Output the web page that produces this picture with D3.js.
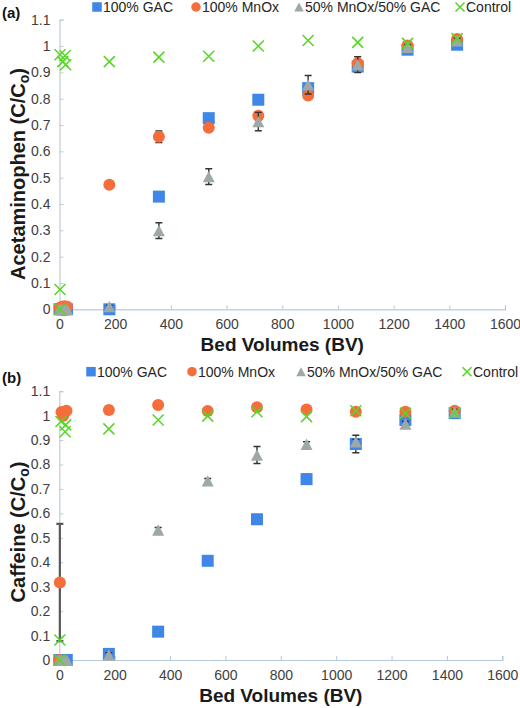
<!DOCTYPE html>
<html><head><meta charset="utf-8">
<script src="https://cdn.jsdelivr.net/npm/d3@7"></script>
<style>body{margin:0;background:#fff}svg{display:block}</style>
</head><body>
<svg id="c" width="520" height="708"></svg>
<script>
// ---------- data ----------
const seriesNames = ["100% GAC", "100% MnOx", "50% MnOx/50% GAC", "Control"];
const xTicks = [0, 200, 400, 600, 800, 1000, 1200, 1400, 1600];
const yTicks = [0, 0.1, 0.2, 0.3, 0.4, 0.5, 0.6, 0.7, 0.8, 0.9, 1, 1.1];

// Panel (a) Acetaminophen
const aBV = [0, 9, 18, 27, 179, 357, 536, 714, 893, 1071, 1250, 1428];
const aGAC = [0, 0, 0, 0, 0, 0.428, 0.726, 0.796, 0.84, 0.922, 0.986, 1.005];
const aGACerr = [0, 0, 0, 0, 0, 0.008, 0.01, 0.008, 0.01, 0.01, 0.008, 0.008];
const aMnOx = [0.005, 0.01, 0.012, 0.01, 0.473, 0.655, 0.69, 0.735, 0.812, 0.935, 1.002, 1.027];
const aMnOxErr = [0, 0, 0, 0, 0.01, 0.022, 0.01, 0.015, 0.01, 0.01, 0.01, 0.01];
const aMix = [0, 0, 0, 0, 0.01, 0.299, 0.504, 0.713, 0.853, 0.929, 0.995, 1.02];
const aMixErr = [0, 0, 0, 0, 0.005, 0.03, 0.03, 0.035, 0.035, 0.03, 0.01, 0.01];
const aCtrlBV = [2, 2, 2, 20, 12, 22, 179, 357, 536, 714, 893, 1071, 1250, 1428];
const aCtrl = [0, 0.075, 0.967, 0.963, 0.941, 0.929, 0.941, 0.958, 0.961, 1.0, 1.021, 1.014, 1.01, 1.028];

// Panel (b) Caffeine
const bBV = [0, 9, 18, 27, 179, 357, 536, 714, 893, 1071, 1250, 1428];
const bGAC = [0, 0, 0, 0, 0.025, 0.116, 0.406, 0.576, 0.74, 0.884, 0.982, 1.01];
const bGACerr = [0, 0, 0, 0, 0.01, 0.01, 0.01, 0.01, 0.02, 0.036, 0.02, 0.01];
const bMnOxBV = [0, 2, 8, 14, 26, 179, 357, 536, 714, 893, 1071, 1250, 1428];
const bMnOx = [0, 0.317, 1.015, 1.0, 1.02, 1.023, 1.044, 1.019, 1.034, 1.025, 1.016, 1.016, 1.02];
const bMnOxErr = [0, 0.24, 0.01, 0.01, 0.01, 0.01, 0.01, 0.01, 0.01, 0.01, 0.01, 0.01, 0.01];
const bMix = [0, 0, 0, 0, 0.02, 0.532, 0.733, 0.839, 0.883, 0.893, 0.966, 1.015];
const bMixErr = [0, 0, 0, 0, 0.01, 0.01, 0.01, 0.035, 0.01, 0.01, 0.01, 0.01];
const bCtrlBV = [2, 2, 6, 23, 21, 179, 357, 536, 714, 893, 1071, 1250, 1428];
const bCtrl = [0, 0.082, 0.976, 0.962, 0.934, 0.946, 0.982, 0.998, 1.016, 0.996, 1.02, 1.01, 1.01];

// ---------- style ----------
const colors = ["#3f86e6", "#f46d3a", "#9ea8a7", "#5ad62a"];
const svg = d3.select("#c");
const FONT = "'Liberation Sans', Arial, sans-serif";

function drawMarker(g, type, x, y, s) {
  if (type === 0) {
    g.append("rect").attr("x", x - s / 2).attr("y", y - s / 2).attr("width", s).attr("height", s).attr("fill", colors[0]);
  } else if (type === 1) {
    g.append("circle").attr("cx", x).attr("cy", y).attr("r", s / 2).attr("fill", colors[1]);
  } else if (type === 2) {
    const h = s * 0.95;
    g.append("path").attr("d", `M${x},${y - h / 2}L${x + s / 2},${y + h / 2}L${x - s / 2},${y + h / 2}Z`).attr("fill", colors[2]);
  } else {
    const r = s / 2;
    g.append("path").attr("d", `M${x - r},${y - r}L${x + r},${y + r}M${x - r},${y + r}L${x + r},${y - r}`)
      .attr("stroke", colors[3]).attr("stroke-width", 1.6).attr("fill", "none");
  }
}

function drawPanel(p) {
  const x = d3.scaleLinear().domain([0, 1600]).range([p.x0, p.x1]);
  const y = d3.scaleLinear().domain([0, 1.1]).range([p.y0, p.y1]);
  const g = svg.append("g");

  // axes
  const yAxis = d3.axisLeft(y).tickValues(yTicks).tickSize(-4).tickPadding(9)
    .tickFormat(d => d === 0 ? "0" : d3.format(".1~f")(d));
  const ya = g.append("g").attr("transform", `translate(${p.x0},0)`).call(yAxis);
  ya.select(".domain").attr("stroke", "#c3cad2").attr("stroke-width", 1.2);
  ya.selectAll(".tick line").attr("stroke", "#c3cad2");
  ya.selectAll("text").attr("font-family", FONT).attr("font-size", 14).attr("fill", "#404040");

  const xAxis = d3.axisBottom(x).tickValues(xTicks).tickSize(-4).tickPadding(10).tickFormat(d3.format("d"));
  const xa = g.append("g").attr("transform", `translate(0,${p.y0})`).call(xAxis);
  xa.select(".domain").attr("stroke", "#b7c9df").attr("stroke-width", 1.2);
  xa.selectAll(".tick line").attr("stroke", "#b7c9df");
  xa.selectAll("text").attr("font-family", FONT).attr("font-size", 14).attr("fill", "#404040");

  // series
  const series = [
    { bv: p.gacBV, v: p.gac, e: p.gacErr },
    { bv: p.mnBV, v: p.mn, e: p.mnErr },
    { bv: p.mixBV, v: p.mix, e: p.mixErr },
    { bv: p.ctrlBV, v: p.ctrl, e: null }
  ];
  series.forEach((s, i) => {
    const sg = g.append("g");
    s.v.forEach((v, j) => {
      const cx = x(s.bv[j]), cy = y(v);
      if (s.e && s.e[j] > 0) {
        const top = y(v + s.e[j]), bot = y(v - s.e[j]);
        sg.append("path").attr("d", `M${cx},${top}L${cx},${bot}M${cx - 3.5},${top}L${cx + 3.5},${top}M${cx - 3.5},${bot}L${cx + 3.5},${bot}`)
          .attr("stroke", i === 1 && s.e[j] > 0.1 ? "#5a5a5a" : "#333").attr("stroke-width", i === 1 && s.e[j] > 0.1 ? 2.2 : 1.4).attr("fill", "none");
      }
    });
    s.v.forEach((v, j) => drawMarker(sg, i, x(s.bv[j]), y(v), i === 3 ? 11 : 12));
  });

  // legend
  const lg = g.append("g");
  p.legend.forEach((lx, i) => {
    drawMarker(lg, i, lx, p.ly, i === 3 ? 9 : 9.5);
    lg.append("text").attr("x", lx + 6).attr("y", p.ly + 5).attr("font-family", FONT).attr("font-size", 14)
      .attr("fill", "#262626").text(seriesNames[i]);
  });

  // panel label
  g.append("text").attr("x", 2).attr("y", p.ly + 11).attr("font-family", FONT).attr("font-size", 15)
    .attr("font-weight", "bold").attr("fill", "#111").text(p.label);

  // axis titles
  g.append("text").attr("x", (p.x0 + p.x1) / 2).attr("y", p.y0 + 42).attr("text-anchor", "middle")
    .attr("font-family", FONT).attr("font-size", 19).attr("font-weight", "bold").attr("fill", "#1a1a1a")
    .text("Bed Volumes (BV)");
  const yt = g.append("text").attr("transform", `translate(25,${p.ytc}) rotate(-90)`).attr("text-anchor", "middle")
    .attr("font-family", FONT).attr("font-size", 20).attr("font-weight", "bold").attr("fill", "#1a1a1a");
  yt.append("tspan").text(p.ytitle + " (C/C");
  yt.append("tspan").attr("font-size", 14).attr("dy", 4).text("o");
  yt.append("tspan").attr("dy", -4).text(")");
}

drawPanel({
  label: "(a)", x0: 59.5, x1: 505, y0: 309.3, y1: 19.7, ly: 7, ytc: 174, ytitle: "Acetaminophen",
  legend: [97, 196, 299, 460],
  gacBV: aBV, gac: aGAC, gacErr: aGACerr,
  mnBV: aBV, mn: aMnOx, mnErr: aMnOxErr,
  mixBV: aBV, mix: aMix, mixErr: aMixErr,
  ctrlBV: aCtrlBV, ctrl: aCtrl
});
drawPanel({
  label: "(b)", x0: 59.3, x1: 502.3, y0: 660, y1: 391.2, ly: 371.7, ytc: 532, ytitle: "Caffeine",
  legend: [91, 192, 301, 467],
  gacBV: bBV, gac: bGAC, gacErr: bGACerr,
  mnBV: bMnOxBV, mn: bMnOx, mnErr: bMnOxErr,
  mixBV: bBV, mix: bMix, mixErr: bMixErr,
  ctrlBV: bCtrlBV, ctrl: bCtrl
});
</script>
</body></html>
